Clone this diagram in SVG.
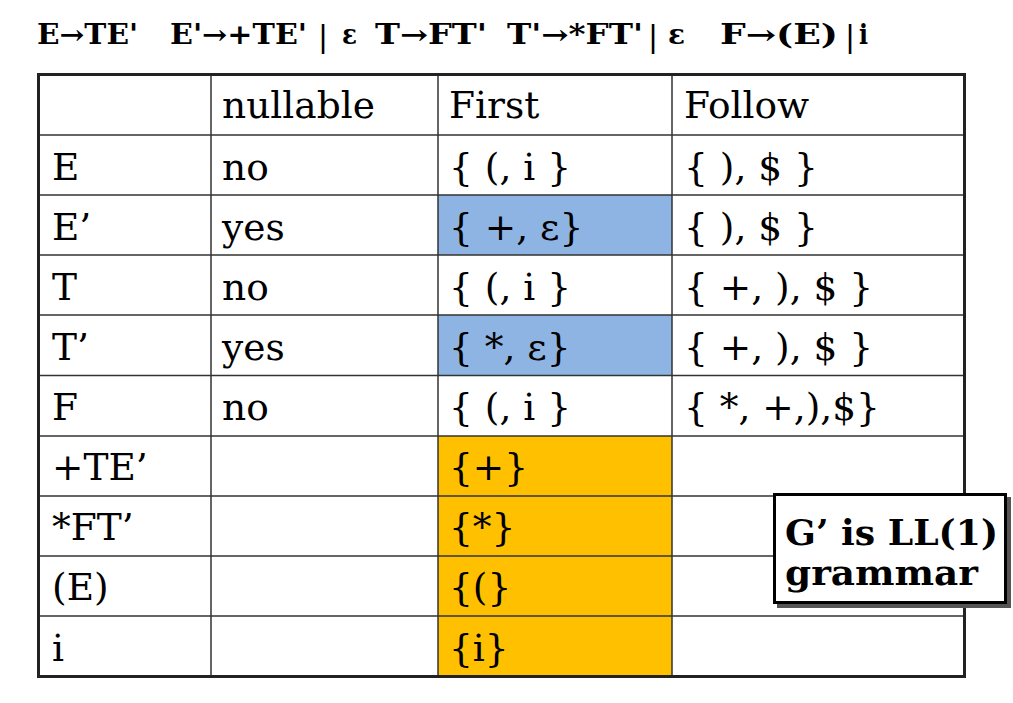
<svg xmlns="http://www.w3.org/2000/svg" width="1013" height="703" viewBox="0 0 1013 703">
<style>
.t{font-family:"DejaVu Serif","Liberation Serif",serif;font-size:37.5px;fill:#000}
.h{font-family:"DejaVu Serif","Liberation Serif",serif;font-size:27px;font-weight:bold;fill:#000}
.bar{font-family:"Liberation Sans",sans-serif;font-size:31px;fill:#000}
.g{font-family:"DejaVu Serif","Liberation Serif",serif;font-size:36px;font-weight:bold;fill:#000}
.in{stroke:#333;stroke-width:1.5;fill:none}
.out{stroke:#222;stroke-width:3;fill:none}
</style>
<rect width="1013" height="703" fill="#fff"/>
<g id="grammar">
<text class="h" x="37" y="44" textLength="101" lengthAdjust="spacingAndGlyphs">E→TE'</text>
<text class="h" x="170" y="44" textLength="137" lengthAdjust="spacingAndGlyphs">E'→+TE'</text>
<text class="bar" x="319" y="47">|</text>
<text class="h" x="342" y="44" textLength="15" lengthAdjust="spacingAndGlyphs">ε</text>
<text class="h" x="375" y="44" textLength="112" lengthAdjust="spacingAndGlyphs">T→FT'</text>
<text class="h" x="507" y="44" textLength="136" lengthAdjust="spacingAndGlyphs">T'→*FT'</text>
<text class="bar" x="649" y="47">|</text>
<text class="h" x="668" y="44" textLength="17" lengthAdjust="spacingAndGlyphs">ε</text>
<text class="h" x="720" y="44" textLength="118" lengthAdjust="spacingAndGlyphs">F→(E)</text>
<text class="bar" x="846" y="47">|</text>
<text class="h" x="859" y="44" textLength="9" lengthAdjust="spacingAndGlyphs">i</text>
</g>
<g id="table">
<rect x="438" y="195" width="234" height="60" fill="#8EB4E3"/>
<rect x="438" y="315" width="234" height="60" fill="#8EB4E3"/>
<rect x="438" y="436" width="234" height="241" fill="#FFC000"/>
<path class="in" d="M38.5 135H964.5M38.5 195H964.5M38.5 255H964.5M38.5 315H964.5M38.5 375.5H964.5M38.5 436H964.5M38.5 496H964.5M38.5 556H964.5M38.5 616H964.5M211 74.5V677M438 74.5V677M672 74.5V677"/>
<rect class="out" x="38.5" y="74.5" width="926" height="602"/>
<g id="header">
<text class="t" x="222" y="118">nullable</text>
<text class="t" x="449" y="118">First</text>
<text class="t" x="684" y="118">Follow</text>
</g>
<g id="row-E">
<text class="t" x="52" y="180">E</text>
<text class="t" x="222" y="180">no</text>
<text class="t" x="449" y="180">{ (, i }</text>
<text class="t" x="684" y="180">{ ), $ }</text>
</g>
<g id="row-E1">
<text class="t" x="52" y="240">E’</text>
<text class="t" x="222" y="240">yes</text>
<text class="t" x="449" y="240">{ +, ε}</text>
<text class="t" x="684" y="240">{ ), $ }</text>
</g>
<g id="row-T">
<text class="t" x="52" y="300">T</text>
<text class="t" x="222" y="300">no</text>
<text class="t" x="449" y="300">{ (, i }</text>
<text class="t" x="684" y="300">{ +, ), $ }</text>
</g>
<g id="row-T1">
<text class="t" x="52" y="360">T’</text>
<text class="t" x="222" y="360">yes</text>
<text class="t" x="449" y="360">{ *, ε}</text>
<text class="t" x="684" y="360">{ +, ), $ }</text>
</g>
<g id="row-F">
<text class="t" x="52" y="420">F</text>
<text class="t" x="222" y="420">no</text>
<text class="t" x="449" y="420">{ (, i }</text>
<text class="t" x="684" y="420">{ *, +,),$}</text>
</g>
<g id="row-pTE">
<text class="t" x="52" y="480">+TE’</text>
<text class="t" x="449" y="480">{+}</text>
</g>
<g id="row-sFT">
<text class="t" x="52" y="540">*FT’</text>
<text class="t" x="449" y="540">{*}</text>
</g>
<g id="row-pE">
<text class="t" x="52" y="600">(E)</text>
<text class="t" x="449" y="600">{(}</text>
</g>
<g id="row-i">
<text class="t" x="52" y="661">i</text>
<text class="t" x="449" y="661">{i}</text>
</g>
</g>
<g id="note">
<rect x="777" y="497" width="234" height="111" fill="#555"/>
<rect x="774.5" y="494.5" width="231" height="108" fill="#fff" stroke="#000" stroke-width="3"/>
<text class="g" x="785" y="545" textLength="213" lengthAdjust="spacingAndGlyphs">G’ is LL(1)</text>
<text class="g" x="785" y="585" textLength="193" lengthAdjust="spacingAndGlyphs">grammar</text>
</g>
</svg>
